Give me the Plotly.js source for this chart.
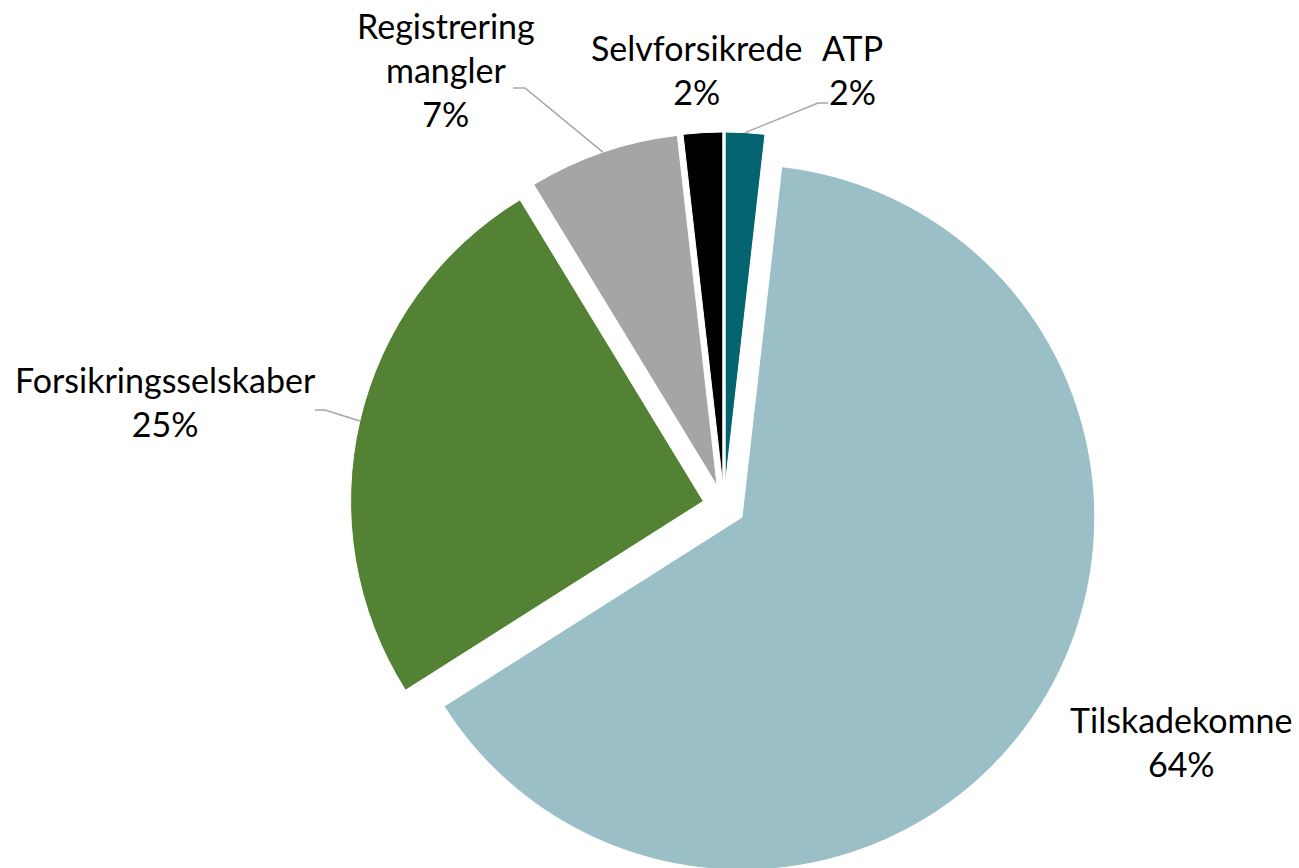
<!DOCTYPE html>
<html>
<head>
<meta charset="utf-8">
<script src="https://cdn.plot.ly/plotly-3.0.1.min.js"></script>
<style>
html, body { margin: 0; padding: 0; overflow: hidden; background: #fff; }
#chart { width: 1299px; height: 900px; }
</style>
</head>
<body>
<div id="chart"></div>
<script>
// ---- Data ----
const categories = ["ATP", "Tilskadekomne", "Forsikringsselskaber", "Registrering mangler", "Selvforsikrede"];
const labelLines = ["ATP", "Tilskadekomne", "Forsikringsselskaber", "Registrering<br>mangler", "Selvforsikrede"];
const shares = [1.8, 64.2, 25.3, 6.9, 1.8];
const sliceColors = ["#03636F", "#9BBFC7", "#548235", "#A5A5A5", "#000000"];

// ---- Layout settings ----
const W = 1299, H = 900;
const M = { l: 300, r: 151, t: 132, b: 20 };
const PULL = 0.06;
const FONT = { family: "Lato, 'Open Sans', sans-serif", size: 34, color: "#000000" };
const LEADER_COLOR = "#A6A6A6";

// label placement (pixel centre of each label block) and optional leader elbow
const labelPos = [
  { x: 852, y: 69, elbow: [[818, 103], [828, 103]] },   // ATP
  { x: 1181, y: 741, elbow: null },                     // Tilskadekomne
  { x: 165, y: 401, elbow: [[325, 410], [315, 410]] },  // Forsikringsselskaber
  { x: 446, y: 70, elbow: [[525, 88], [513, 88]] },     // Registrering mangler
  { x: 697, y: 70, elbow: null }                        // Selvforsikrede
];

const plotW = W - M.l - M.r, plotH = H - M.t - M.b;
const toPX = x => (x - M.l) / plotW;
const toPY = y => 1 - (y - M.t) / plotH;

// pie geometry, the same way Plotly sizes a pulled pie
const cx = M.l + plotW / 2, cy = M.t + plotH / 2;
const rOuter = Math.min(plotW, plotH) / 2;           // = (1+pull) * r
const total = shares.reduce((a, b) => a + b, 0);

const annotations = [];
const shapes = [];
let cum = 0;
shares.forEach((v, i) => {
  const pct = Math.round(100 * v / total);
  const midFrac = (cum + v / 2) / total;
  cum += v;
  const ang = midFrac * 2 * Math.PI;
  const ax = cx + rOuter * Math.sin(ang);
  const ay = cy - rOuter * Math.cos(ang);
  const lp = labelPos[i];
  annotations.push({
    xref: "paper", yref: "paper",
    x: toPX(lp.x), y: toPY(lp.y),
    xanchor: "center", yanchor: "middle", align: "center",
    text: labelLines[i] + "<br>" + pct + "%",
    showarrow: false,
    font: FONT
  });
  if (lp.elbow) {
    let d = "M " + toPX(ax) + " " + toPY(ay);
    lp.elbow.forEach(p => { d += " L " + toPX(p[0]) + " " + toPY(p[1]); });
    shapes.push({
      type: "path", xref: "paper", yref: "paper", path: d,
      line: { color: LEADER_COLOR, width: 1.5 }
    });
  }
});

const trace = {
  type: "pie",
  labels: categories,
  values: shares,
  sort: false,
  direction: "clockwise",
  rotation: 0,
  pull: categories.map(() => PULL),
  marker: { colors: sliceColors, line: { color: "#ffffff", width: 1 } },
  textinfo: "none",
  hoverinfo: "label+percent",
  showlegend: false
};

const layout = {
  width: W,
  height: H,
  margin: M,
  paper_bgcolor: "#ffffff",
  plot_bgcolor: "#ffffff",
  showlegend: false,
  annotations: annotations,
  shapes: shapes
};

Plotly.newPlot("chart", [trace], layout, { displayModeBar: false, staticPlot: true });
</script>
</body>
</html>
